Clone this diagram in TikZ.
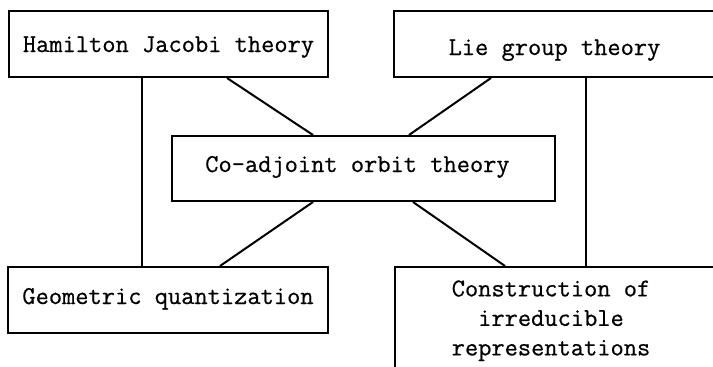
\documentclass[tikz,border=0pt]{standalone}
\usepackage{fontspec}
\newfontfamily\typew{Latin Modern Mono}[FakeBold=0.6]
\begin{document}
\begin{tikzpicture}[x=1pt,y=-1pt,
  box/.style={draw, line width=2pt, inner sep=0pt,
    font=\fontsize{25.7}{29.5}\selectfont\typew},
  link/.style={line width=2pt}]
\useasboundingbox (0,0) rectangle (713,367);
\clip (0,0) rectangle (713,367);
\node[box, minimum width=319pt, minimum height=66pt, text height=16pt, text depth=0pt] (ham) at (168.5,44) {Hamilton Jacobi theory};
\node[box, minimum width=321pt, minimum height=66pt, text height=22pt, text depth=0pt] (lie) at (554.5,44) {Lie group theory};
\node[box, minimum width=383pt, minimum height=65pt, text height=7pt, text depth=0pt] (co) at (363.5,168.5) {Co-adjoint orbit theory\hspace*{12pt}};
\node[box, minimum width=320pt, minimum height=66pt, text height=8pt, text depth=0pt] (geo) at (168,300) {Geometric quantization};
\node[box, minimum width=350pt, minimum height=106pt] (con) at (570,320)
  {\begin{tabular}{@{}c@{}}Construction of\\irreducible\\representations\end{tabular}\hspace*{38pt}};
\coordinate (xa) at (142,0);
\coordinate (xb) at (227,0);
\coordinate (xc) at (313,0);
\coordinate (xd) at (491,0);
\coordinate (xe) at (409,0);
\coordinate (xf) at (586,0);
\coordinate (xg) at (220,0);
\coordinate (xh) at (413,0);
\coordinate (xi) at (505,0);
\draw[link] (ham.south -| xa) -- (geo.north -| xa);
\draw[link] (ham.south -| xb) -- (co.north -| xc);
\draw[link] (lie.south -| xd) -- (co.north -| xe);
\draw[link] (lie.south -| xf) -- (con.north -| xf);
\draw[link] (co.south -| xc) -- (geo.north -| xg);
\draw[link] (co.south -| xh) -- (con.north -| xi);
\end{tikzpicture}
\end{document}
